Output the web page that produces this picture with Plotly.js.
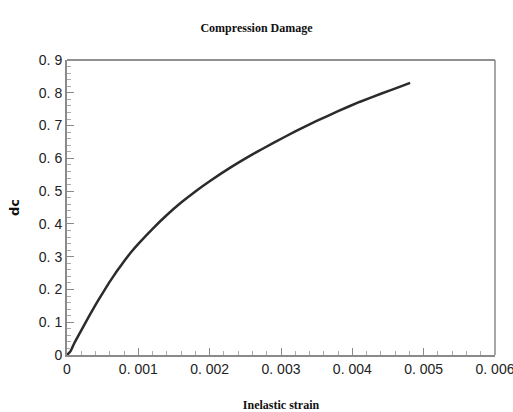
<!DOCTYPE html>
<html>
<head>
<meta charset="utf-8">
<script src="https://cdn.plot.ly/plotly-3.0.1.min.js"></script>
<style>
  html, body { margin: 0; padding: 0; background: #fff; }
  #chart { width: 513px; height: 412px; }
</style>
</head>
<body>
<div id="chart"></div>
<script>
// Compression damage parameter dc versus inelastic strain
const inelasticStrain = [0, 0.00005, 0.0001, 0.0002, 0.0003, 0.0004, 0.0005, 0.0006, 0.0007,
  0.0008, 0.0009, 0.001, 0.0012, 0.0014, 0.0016, 0.0018, 0.002, 0.0023, 0.0026, 0.0029,
  0.0032, 0.0035, 0.0038, 0.0041, 0.0044, 0.0047, 0.00481];
const damageDc = [0, 0.012, 0.035, 0.075, 0.115, 0.153, 0.189, 0.224, 0.256,
  0.286, 0.314, 0.339, 0.385, 0.427, 0.465, 0.499, 0.530, 0.573, 0.612, 0.648,
  0.682, 0.714, 0.744, 0.772, 0.797, 0.821, 0.830];

const xTickVals = [0, 0.001, 0.002, 0.003, 0.004, 0.005, 0.006];
const xTickText = ['0', '0. 001', '0. 002', '0. 003', '0. 004', '0. 005', '0. 006'];
const yTickVals = [0, 0.1, 0.2, 0.3, 0.4, 0.5, 0.6, 0.7, 0.8, 0.9];
const yTickText = ['0', '0. 1', '0. 2', '0. 3', '0. 4', '0. 5', '0. 6', '0. 7', '0. 8', '0. 9'];

const tickFont = { family: 'Liberation Sans, Arial, sans-serif', size: 14, color: '#222' };
const axisGrey = '#8a8a8a';

const trace = {
  x: inelasticStrain,
  y: damageDc,
  type: 'scatter',
  mode: 'lines',
  line: { color: '#2b2b2b', width: 2.5, shape: 'spline', smoothing: 0.4 },
  hoverinfo: 'skip'
};

const layout = {
  width: 513,
  height: 412,
  margin: { l: 67, r: 18, t: 60, b: 57 },
  paper_bgcolor: '#fff',
  plot_bgcolor: '#fff',
  showlegend: false,
  title: {
    text: '<b>Compression Damage</b>',
    font: { family: 'Liberation Serif, Times New Roman, serif', size: 12, color: '#111' },
    x: 0.5, xanchor: 'center',
    y: 1 - 28 / 412, yanchor: 'middle'
  },
  xaxis: {
    range: [0, 0.006],
    tickvals: xTickVals,
    ticktext: xTickText,
    tickfont: tickFont,
    ticklabeloverflow: 'allow',
    ticks: 'inside',
    ticklen: 7,
    tickcolor: axisGrey,
    tickwidth: 1,
    minor: { dtick: 0.0002, ticks: 'inside', ticklen: 4, tickcolor: '#aaa', tickwidth: 1 },
    showgrid: false,
    zeroline: false,
    showline: true,
    linecolor: axisGrey,
    linewidth: 2,
    automargin: false,
    title: {
      text: '<b>Inelastic strain</b>',
      font: { family: 'Liberation Serif, Times New Roman, serif', size: 12, color: '#111' },
      standoff: 26
    }
  },
  yaxis: {
    range: [0, 0.9],
    tickvals: yTickVals,
    ticktext: yTickText,
    tickfont: tickFont,
    ticks: 'inside',
    ticklen: 7,
    tickcolor: axisGrey,
    tickwidth: 1,
    minor: { dtick: 0.02, ticks: 'inside', ticklen: 4, tickcolor: '#aaa', tickwidth: 1 },
    showgrid: false,
    zeroline: false,
    showline: true,
    linecolor: axisGrey,
    linewidth: 2,
    automargin: false,
    title: {
      text: '<b>dc</b>',
      font: { family: 'DejaVu Sans, sans-serif', size: 13, color: '#111' },
      standoff: 16
    }
  },
  shapes: [
    { type: 'line', xref: 'paper', yref: 'paper', x0: 0, x1: 1, y0: 1, y1: 1,
      line: { color: '#222', width: 1 } },
    { type: 'line', xref: 'paper', yref: 'paper', x0: 1, x1: 1, y0: 0, y1: 1,
      line: { color: axisGrey, width: 1.5 } }
  ]
};

Plotly.newPlot('chart', [trace], layout, { staticPlot: true, displayModeBar: false });
</script>
</body>
</html>
